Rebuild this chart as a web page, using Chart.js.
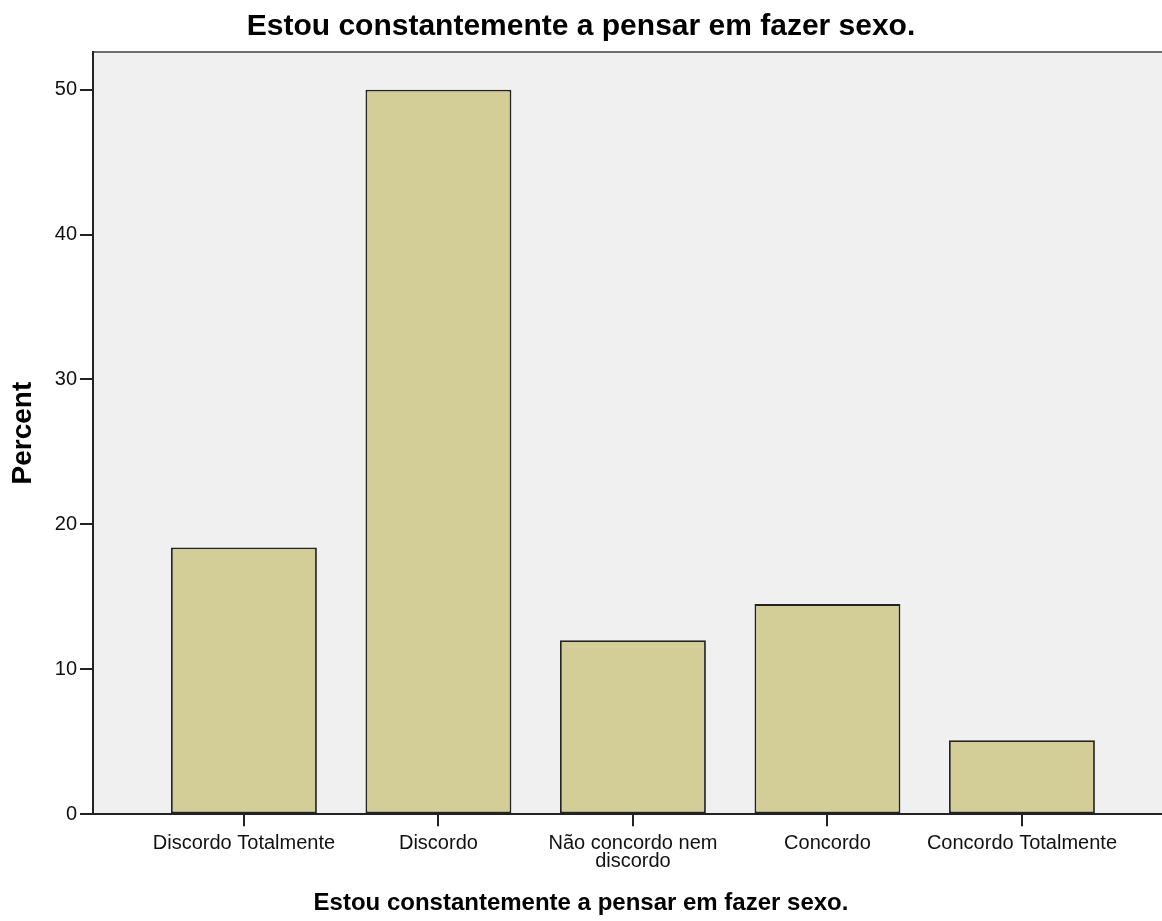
<!DOCTYPE html>
<html>
<head>
<meta charset="utf-8">
<script src="https://cdn.jsdelivr.net/npm/chart.js@4.4.0/dist/chart.umd.min.js"></script>
<style>
  body { margin: 0; background: #fff; }
  #wrap { width: 1162px; height: 921px; position: relative; }
</style>
</head>
<body>
<div id="wrap"><canvas id="chartBar"></canvas></div>
<script>
// data
var categories = ['Discordo Totalmente', 'Discordo', 'Não concordo nem discordo', 'Concordo', 'Concordo Totalmente'];
var tickLabels = [['Discordo Totalmente'], ['Discordo'], ['Não concordo nem', 'discordo'], ['Concordo'], ['Concordo Totalmente']];
var percents = [18.4, 50.0, 12.0, 14.5, 5.1];
var yTicks = [0, 10, 20, 30, 40, 50];

var FONT = "'Liberation Sans', Arial, sans-serif";

const plotBackground = {
    id: 'plotBackground',
    beforeDraw(chart) {
        var ctx = chart.ctx, a = chart.chartArea;
        ctx.save();
        ctx.fillStyle = '#ffffff';
        ctx.fillRect(0, 0, chart.width, chart.height);
        ctx.fillStyle = '#f0f0f0';
        ctx.fillRect(a.left, a.top, a.right - a.left, a.bottom - a.top);
        ctx.strokeStyle = '#6e6e6e';
        ctx.lineWidth = 2;
        ctx.beginPath();
        ctx.moveTo(a.left, a.top);
        ctx.lineTo(a.right, a.top);
        ctx.stroke();
        ctx.restore();
    }
};

const barChart = function barChart(){
    var bar = document.getElementById('chartBar').getContext('2d');
    var myChart = new Chart(bar, {
        type: 'bar',
        data: {
            datasets: [{
                data: percents.map(function(v, i){ return {x: i, y: v}; }),
                backgroundColor: '#d3ce98',
                borderColor: '#222222',
                borderWidth: 1.8,
                borderSkipped: false,
                barPercentage: 0.75,
                categoryPercentage: 1
            }]
        },
        plugins: [plotBackground],
        options: {
            responsive: true,
            maintainAspectRatio: false,
            animation: false,
            devicePixelRatio: 1,
            layout: { padding: 0 },
            plugins: {
                legend: { display: false },
                tooltip: { enabled: false },
                title: {
                    display: true,
                    text: 'Estou constantemente a pensar em fazer sexo.',
                    color: '#000',
                    font: { family: FONT, size: 30, weight: 'bold', lineHeight: 1.2 },
                    padding: { top: 9, bottom: 7 }
                },
                subtitle: {
                    display: true,
                    position: 'bottom',
                    text: 'Estou constantemente a pensar em fazer sexo.',
                    color: '#000',
                    font: { family: FONT, size: 24, weight: 'bold', lineHeight: 1.2 },
                    padding: { top: 0, bottom: 3 }
                }
            },
            scales: {
                x: {
                    type: 'linear',
                    offset: false,
                    min: -0.776,
                    max: 4.72,
                    afterBuildTicks: function(scale){
                        scale.ticks = categories.map(function(c, i){ return {value: i}; });
                    },
                    afterFit: function(scale){ scale.height = 75; },
                    grid: { display: true, offset: false, drawOnChartArea: false, drawTicks: true, tickLength: 12, color: '#222', lineWidth: 2 },
                    border: { display: true, color: '#222', width: 2 },
                    ticks: {
                        autoSkip: false,
                        maxRotation: 0,
                        padding: 8,
                        color: '#111',
                        font: { family: FONT, size: 20, lineHeight: 0.9 },
                        callback: function(value){ return tickLabels[value]; }
                    }
                },
                y: {
                    min: 0,
                    max: 52.6,
                    afterBuildTicks: function(scale){
                        scale.ticks = yTicks.map(function(v){ return {value: v}; });
                    },
                    afterFit: function(scale){ scale.width = 93; },
                    grid: { display: true, drawOnChartArea: false, drawTicks: true, tickLength: 13, color: '#222', lineWidth: 2 },
                    border: { display: true, color: '#222', width: 2 },
                    ticks: {
                        padding: 3,
                        color: '#111',
                        font: { family: FONT, size: 20 }
                    },
                    title: {
                        display: true,
                        text: 'Percent',
                        color: '#000',
                        font: { family: FONT, size: 28, weight: 'bold', lineHeight: 1.2 },
                        padding: { top: 6, bottom: 0 }
                    }
                }
            }
        }
    });
    return myChart;
}

var chart = barChart();
</script>
</body>
</html>
